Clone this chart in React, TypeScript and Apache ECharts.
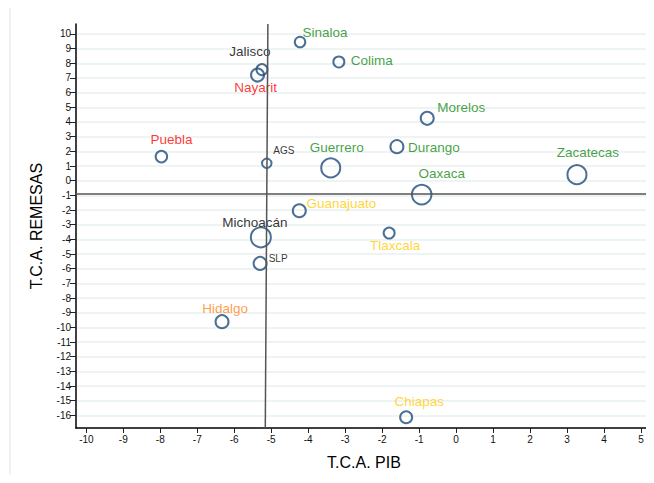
import React, { useEffect, useRef } from "react";
import * as echarts from "echarts";

const estados = [
  "Sinaloa", "Colima", "Jalisco", "Nayarit", "Puebla", "AGS", "Guerrero", "Morelos",
  "Durango", "Zacatecas", "Oaxaca", "Guanajuato", "Tlaxcala", "Michoacán", "SLP", "Hidalgo", "Chiapas",
];
const tcaPib = [
  -4.22, -3.17, -5.25, -5.37, -7.97, -5.12, -3.39, -0.78,
  -1.6, 3.27, -0.93, -4.24, -1.81, -5.28, -5.3, -6.33, -1.35,
];
const tcaRemesas = [
  9.45, 8.09, 7.57, 7.2, 1.64, 1.18, 0.87, 4.25,
  2.32, 0.41, -0.95, -2.05, -3.57, -3.86, -5.64, -9.61, -16.13,
];
const burbuja = [
  10.5, 11, 11, 13, 11.5, 9.5, 19, 13,
  13, 19, 19.5, 13, 11, 20, 13, 13, 12,
];
const grupo = [
  "verde", "verde", "negro", "rojo", "rojo", "negro", "verde", "verde",
  "verde", "verde", "verde", "amarillo", "amarillo", "negro", "negro", "naranja", "amarillo",
];
const xTicks = [-10, -9, -8, -7, -6, -5, -4, -3, -2, -1, 0, 1, 2, 3, 4, 5];
const yTicks = [
  -16, -15, -14, -13, -12, -11, -10, -9, -8, -7, -6, -5, -4, -3, -2, -1,
  0, 1, 2, 3, 4, 5, 6, 7, 8, 9, 10,
];
const xRange = [-10.28, 5.3];
const yRange = [-16.86, 10.68];
const mediaPibArriba = -5.09;
const mediaPibAbajo = -5.16;
const mediaRemesas = -0.92;

const colores: Record<string, string> = {
  verde: "#128a12",
  negro: "#000000",
  rojo: "#ff0000",
  amarillo: "#ffcc00",
  naranja: "#ff8519",
};
const pequenos = new Set(["AGS", "SLP"]);
const etiquetaOffset: Record<string, [number, number]> = {
  Sinaloa: [25, -10],
  Colima: [33, -1],
  Jalisco: [-12, -18],
  Nayarit: [-2, 12],
  Puebla: [10, -17],
  AGS: [17, -13],
  Guerrero: [6, -20],
  Morelos: [34, -11],
  Durango: [37, 1],
  Zacatecas: [11, -22],
  Oaxaca: [20, -21],
  Guanajuato: [42, -7],
  Tlaxcala: [6, 12],
  "Michoacán": [-6, -15],
  SLP: [18, -5],
  Hidalgo: [3, -13],
  Chiapas: [13, -16],
};

export default function App() {
  const ref = useRef<HTMLDivElement>(null);
  useEffect(() => {
    if (!ref.current) return;
    const chart = echarts.init(ref.current, null, { renderer: "svg" });
    const data = estados.map((n, i) => ({
      name: n,
      value: [tcaPib[i], tcaRemesas[i]],
      symbolSize: burbuja[i],
      label: {
        show: true,
        position: "inside",
        formatter: n,
        offset: etiquetaOffset[n],
        color: colores[grupo[i]],
        textBorderWidth: 0,
        textBorderColor: "transparent",
        fontSize: pequenos.has(n) ? 10 : 13.5,
        fontFamily: "Liberation Sans",
      },
    }));
    chart.setOption({
      animation: false,
      backgroundColor: "#ffffff",
      graphic: [
        {
          type: "rect",
          shape: { x: 10, y: 7, width: 700, height: 520 },
          style: { fill: "none", stroke: "#e9eeee", lineWidth: 1.5 },
          silent: true,
          z: -1,
        },
      ],
      grid: { left: 76, top: 24, width: 576, height: 404, containLabel: false },
      xAxis: {
        type: "value",
        min: xRange[0],
        max: xRange[1],
        name: "T.C.A. PIB",
        nameLocation: "middle",
        nameGap: 26,
        nameTextStyle: { fontSize: 16, color: "#000", fontFamily: "Liberation Sans" },
        axisLine: { show: true, onZero: false, lineStyle: { color: "#000", width: 1.5 } },
        axisTick: { show: true, customValues: xTicks, length: 5, lineStyle: { color: "#222", width: 1 } },
        axisLabel: {
          customValues: xTicks,
          fontSize: 10,
          color: "#111",
          margin: 6,
          fontFamily: "Liberation Sans",
        },
        splitLine: { show: false },
      },
      yAxis: {
        type: "value",
        min: yRange[0],
        max: yRange[1],
        name: "T.C.A. REMESAS",
        nameLocation: "middle",
        nameGap: 32,
        nameTextStyle: { fontSize: 16, color: "#000", fontFamily: "Liberation Sans" },
        axisLine: { show: true, onZero: false, lineStyle: { color: "#000", width: 1.5 } },
        axisTick: { show: true, customValues: yTicks, length: 6, lineStyle: { color: "#222", width: 1 } },
        axisLabel: {
          customValues: yTicks,
          fontSize: 10,
          color: "#111",
          margin: 5,
          fontFamily: "Liberation Sans",
        },
        splitLine: { show: true, lineStyle: { color: "#e8efef", width: 1.5 } },
      },
      series: [
        {
          type: "scatter",
          symbol: "circle",
          data,
          itemStyle: { color: "rgba(0,0,0,0)", borderColor: "#1f4b7a", borderWidth: 2 },
          emphasis: { disabled: true },
          z: 3,
          markLine: {
            silent: true,
            symbol: "none",
            label: { show: false },
            lineStyle: { color: "#555", width: 1.5, type: "solid" },
            data: [
              { yAxis: mediaRemesas },
              [
                { coord: [mediaPibArriba, yRange[1]] },
                { coord: [mediaPibAbajo, yRange[0]] },
              ],
            ],
          },
        },
      ],
    });
    return () => chart.dispose();
  }, []);
  return <div ref={ref} style={{ width: 654, height: 483, margin: -8 }} />;
}
